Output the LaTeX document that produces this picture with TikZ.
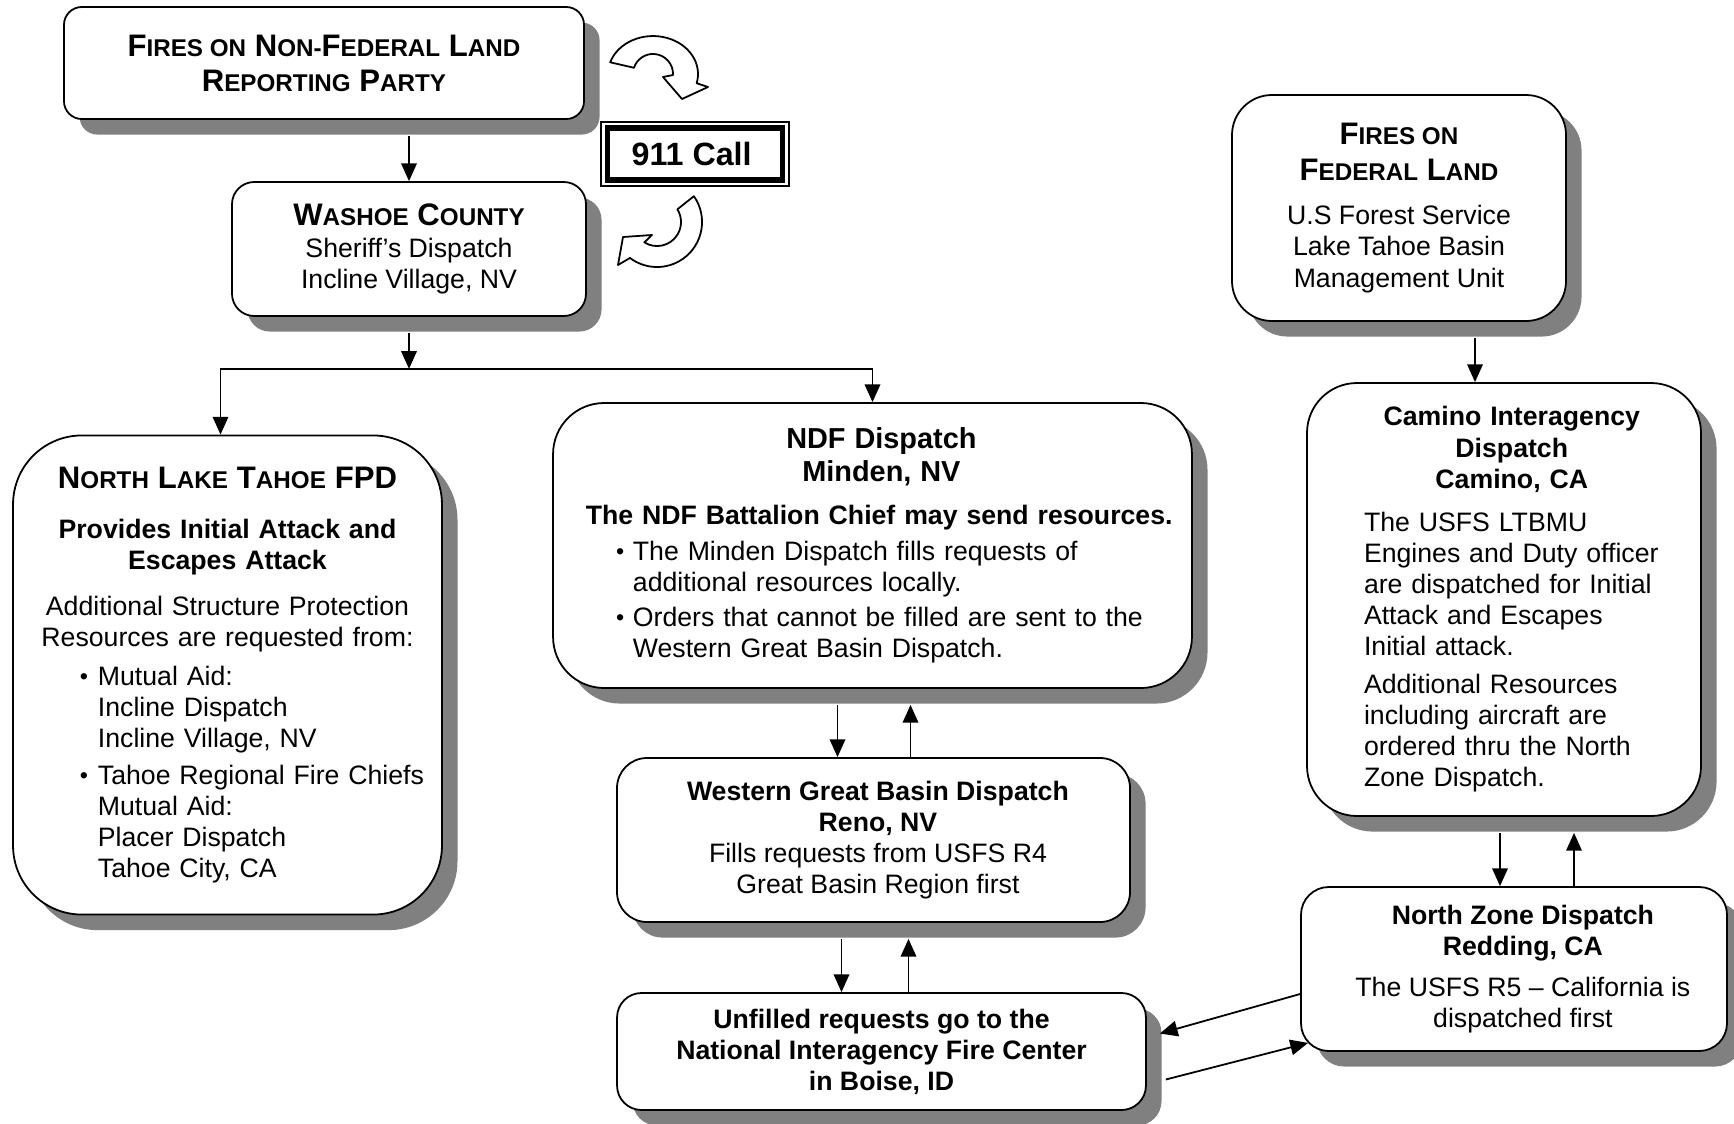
\documentclass[tikz,border=0pt]{standalone}
\usepackage{fontspec}
\setmainfont{Liberation Sans}
\usepackage{tikz}
\usetikzlibrary{arrows.meta,shadows,calc,positioning}
\definecolor{shadowgray}{RGB}{128,128,128}
\newcommand{\scp}[1]{{\fontsize{10.9}{13}\selectfont #1}}
\newcommand{\headfont}{\fontsize{14}{16}\selectfont\bfseries}
\newcommand{\bul}{\raisebox{0.4pt}{\fontsize{10.5}{10}\selectfont\textbullet}}
\newcommand{\bulline}[3]{\makebox[\hsize][l]{\hspace*{#1}\makebox[#2][l]{\bul}#3}}
\newcommand{\indline}[2]{\makebox[\hsize][l]{\hspace*{#1}#2}}

\begin{document}
\begin{tikzpicture}[x=0.45pt, y=-0.45pt,
  box/.style={draw, line width=0.8pt, fill=white, align=center,
    font=\fontsize{12}{14}\selectfont,
    drop shadow={shadow xshift=7pt, shadow yshift=-7pt, opacity=1, fill=shadowgray}},
  flow/.style={line width=0.8pt, -{Triangle[length=8pt, width=7pt]}},
  curl/.style={draw, fill=white, line width=0.8pt, line join=round}]
\path[use as bounding box, fill=white] (0,0) rectangle (1734,1123);

\node[box, rounded corners=8pt, minimum width=234pt, minimum height=50.4pt] (nonfed) at (324,63)
  {{\headfont F\scp{IRES ON} N\scp{ON-}F\scp{EDERAL} L\scp{AND}}\\[1.75pt]
   {\headfont R\scp{EPORTING} P\scp{ARTY}}};
\node[box, rounded corners=10pt, minimum width=159.3pt, minimum height=60.3pt] (wash) at (409,249)
  {{\headfont W\scp{ASHOE} C\scp{OUNTY}}\\[0.6pt]
   Sheriff’s Dispatch\\ Incline Village, NV};
\node[draw, line width=0.6pt, minimum width=84.6pt, minimum height=28.8pt,
  font=\fontsize{14.5}{17}\selectfont\bfseries] (call) at (695,154) {911 Call\hspace*{3pt}};
\draw[line width=2.6pt] ([shift={(3.2pt,-2.9pt)}]call.north west) rectangle ([shift={(-3.2pt,2.9pt)}]call.south east);

\node[box, rounded corners=18pt, minimum width=150.3pt, minimum height=101.7pt] (fed) at (1399,208)
  {{\headfont F\scp{IRES ON}}\\[2.2pt]
   {\headfont F\scp{EDERAL} L\scp{AND}}\\[5.8pt]
   U.S Forest Service\\ Lake Tahoe Basin\\ Management Unit};

\node[box, rounded corners=31pt, minimum width=193pt, minimum height=215.6pt, text width=180pt] (nlt) at (227.5,675)
  {{\headfont N\scp{ORTH} L\scp{AKE} T\scp{AHOE} FPD}\\[8.5pt]
   \textbf{Provides Initial Attack and}\\
   \textbf{Escapes Attack}\\[6.7pt]
   Additional Structure Protection\\
   Resources are requested from:\\[3.5pt]
   \bulline{23.6pt}{8.1pt}{Mutual Aid:}\\
   \indline{31.7pt}{Incline Dispatch}\\
   \indline{31.7pt}{Incline Village, NV}\\[2.7pt]
   \bulline{23.6pt}{8.1pt}{Tahoe Regional Fire Chiefs}\\
   \indline{31.7pt}{Mutual Aid:}\\
   \indline{31.7pt}{Placer Dispatch}\\
   \indline{31.7pt}{Tahoe City, CA}};

\node[box, rounded corners=23pt, minimum width=287.5pt, minimum height=128.25pt, text width=278pt] (ndf) at (872.5,545.5)
  {{\fontsize{13}{15}\selectfont\bfseries\hspace*{8pt}NDF Dispatch}\\[0.85pt]
   {\fontsize{13}{15}\selectfont\bfseries\hspace*{8pt}Minden, NV}\\[5.35pt]
   \textbf{\hspace*{6pt}The NDF Battalion Chief may send resources.}\\[2.2pt]
   \bulline{23.6pt}{7.6pt}{The Minden Dispatch fills requests of}\\
   \indline{31.2pt}{additional resources locally.}\\[1.75pt]
   \bulline{23.6pt}{7.6pt}{Orders that cannot be filled are sent to the}\\
   \indline{31.2pt}{Western Great Basin Dispatch.}};

\node[box, rounded corners=13.5pt, minimum width=230.85pt, minimum height=73.8pt] (wgb) at (873.5,840)
  {\hspace*{4pt}\textbf{Western Great Basin Dispatch}\\ \hspace*{4pt}\textbf{Reno, NV}\\
   \hspace*{4pt}Fills requests from USFS R4\\ \hspace*{4pt}Great Basin Region first};
\node[box, rounded corners=11pt, minimum width=238pt, minimum height=52.65pt] (nifc) at (881.5,1051.5)
  {\textbf{Unfilled requests go to the}\\ \textbf{National Interagency Fire Center}\\ \textbf{in Boise, ID}};

\node[box, rounded corners=22.5pt, minimum width=177.3pt, minimum height=194.85pt, text width=162pt] (camino) at (1504,599.5)
  {\textbf{\hspace*{7pt}Camino Interagency}\\ \textbf{\hspace*{7pt}Dispatch}\\ \textbf{\hspace*{7pt}Camino, CA}\\[5.35pt]
   \indline{18pt}{The USFS LTBMU}\\
   \indline{18pt}{Engines and Duty officer}\\
   \indline{18pt}{are dispatched for Initial}\\
   \indline{18pt}{Attack and Escapes}\\
   \indline{18pt}{Initial attack.}\\[3.1pt]
   \indline{18pt}{Additional Resources}\\
   \indline{18pt}{including aircraft are}\\
   \indline{18pt}{ordered thru the North}\\
   \indline{18pt}{Zone Dispatch.}};
\node[box, rounded corners=12.5pt, minimum width=191.7pt, minimum height=73.8pt] (nz) at (1514,969)
  {\hspace*{8pt}\textbf{North Zone Dispatch}\\ \hspace*{8pt}\textbf{Redding, CA}\\[4.45pt]
   \hspace*{8pt}The USFS R5 -- California is\\ \hspace*{8pt}dispatched first};

\draw[curl] (610.2,62.3) arc[start angle=198, end angle=374, x radius=45, y radius=38]
  -- (708,87) -- (682,99) -- (663,77) -- (673,75) arc[start angle=3, end angle=-162, radius=20] -- cycle;
\draw[curl] (693.9,196.2) arc[start angle=-35, end angle=127, radius=45]
  -- (618,265) -- (623,237) -- (652,235) -- (644.3,242.4) arc[start angle=122, end angle=-32, radius=24] -- cycle;

\draw[flow] ($(nonfed.south -| wash.north)+(0,16)$) -- (wash.north);
\coordinate (split) at ($(wash.south)+(0,52)$);
\draw[flow] ($(wash.south)+(0,16)$) -- (split);
\draw[flow] (split) -| ($(nlt.north)+(-7,0)$);
\draw[flow] (split) -| (ndf.north);
\draw[flow] ($(camino.north |- fed.south)+(-29,16)$) -- ($(camino.north)+(-29,0)$);

\draw[flow] ($(wgb.north |- ndf.south)+(-36,16)$) -- ($(wgb.north)+(-36,0)$);
\draw[flow] ($(wgb.north)+(37,0)$) -- ($(wgb.north |- ndf.south)+(37,16)$);
\draw[flow] ($(wgb.south)+(-32,16)$) -- ($(nifc.north -| wgb.south)+(-32,0)$);
\draw[flow] ($(nifc.north -| wgb.south)+(35,0)$) -- ($(wgb.south)+(35,16)$);

\draw[flow] ($(camino.south)+(-4,16)$) -- ($(nz.north -| camino.south)+(-4,0)$);
\draw[flow] ($(nz.north -| camino.south)+(70,0)$) -- ($(camino.south)+(70,16)$);
\draw[flow] ($(nz.west)+(0,25)$) -- ($(nifc.east)+(13,-18)$);
\draw[flow] ($(nifc.east)+(19,28)$) -- ($(nz.south west)+(8,-9)$);
\end{tikzpicture}
\end{document}
